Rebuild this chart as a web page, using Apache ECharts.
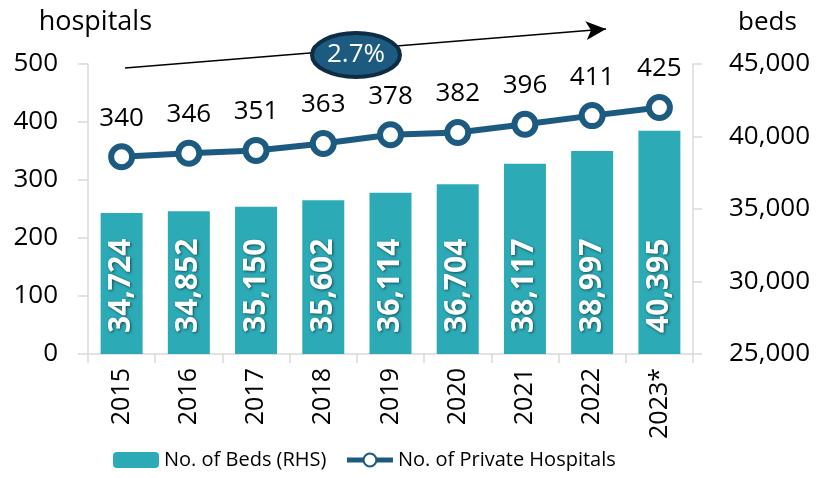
<!DOCTYPE html>
<html>
<head>
<meta charset="utf-8">
<script src="https://cdn.jsdelivr.net/npm/echarts@6/dist/echarts.min.js"></script>
<style>
  html, body { margin: 0; padding: 0; background: #fff; }
  #chart { width: 825px; height: 478px; }
</style>
</head>
<body>
<div id="chart"></div>
<script>
var years = ['2015', '2016', '2017', '2018', '2019', '2020', '2021', '2022', '2023*'];
var beds = [34724, 34852, 35150, 35602, 36114, 36704, 38117, 38997, 40395];
var hospitals = [340, 346, 351, 363, 378, 382, 396, 411, 425];
var growthLabel = '2.7%';

var font = '"Open Sans", "Noto Sans", sans-serif';
var axisGray = '#d9d9d9';
var navy = '#1d5a80';

var myChart = echarts.init(document.getElementById('chart'));
var option = {
    animation: false,
    textStyle: { fontFamily: font },
    grid: { left: 88, right: 132, top: 64, bottom: 124 },
    legend: {
        bottom: 3,
        left: 108,
        itemWidth: 46,
        itemHeight: 16,
        itemGap: 18,
        textStyle: { fontSize: 20, color: '#000', fontFamily: font },
        lineStyle: { width: 5 },
        data: ['No. of Beds (RHS)', 'No. of Private Hospitals']
    },
    xAxis: {
        type: 'category',
        data: years,
        axisLine: { lineStyle: { color: axisGray, width: 1.5 } },
        axisTick: { show: true, length: 9, lineStyle: { color: axisGray, width: 1.5 } },
        axisLabel: { rotate: 90, fontSize: 25, color: '#000', margin: 14 }
    },
    yAxis: [
        {
            type: 'value',
            name: 'hospitals',
            nameGap: 28,
            nameTextStyle: { fontSize: 27, color: '#000', align: 'right', padding: [0, -64, 0, 0] },
            min: 0, max: 500, interval: 100,
            axisLine: { show: true, lineStyle: { color: axisGray, width: 1.5 } },
            axisTick: { show: true, length: 10, lineStyle: { color: axisGray, width: 1.5 } },
            splitLine: { show: false },
            axisLabel: { fontSize: 26, color: '#000', margin: 30 }
        },
        {
            type: 'value',
            name: 'beds',
            nameGap: 28,
            nameTextStyle: { fontSize: 26, color: '#000', align: 'left', padding: [0, 0, 0, 45] },
            min: 25000, max: 45000, interval: 5000,
            axisLine: { show: true, lineStyle: { color: axisGray, width: 1.5 } },
            axisTick: { show: true, length: 9, lineStyle: { color: axisGray, width: 1.5 } },
            splitLine: { show: false },
            axisLabel: {
                fontSize: 26, color: '#000', margin: 36,
                formatter: function (v) { return v.toLocaleString('en-US'); }
            }
        }
    ],
    series: [
        {
            name: 'No. of Beds (RHS)',
            type: 'bar',
            yAxisIndex: 1,
            data: beds,
            barWidth: 42,
            itemStyle: { color: '#2cabb7' },
            label: {
                show: true,
                position: 'insideBottom',
                rotate: 90,
                align: 'left',
                verticalAlign: 'middle',
                distance: 21,
                fontSize: 30,
                fontWeight: 'bold',
                color: '#fff',
                textShadowColor: 'rgba(0,0,0,0.55)',
                textShadowBlur: 3,
                textShadowOffsetX: 1,
                textShadowOffsetY: 1,
                formatter: function (p) { return p.value.toLocaleString('en-US'); }
            }
        },
        {
            name: 'No. of Private Hospitals',
            type: 'line',
            yAxisIndex: 0,
            data: hospitals,
            symbol: 'circle',
            symbolSize: 21,
            lineStyle: { color: navy, width: 6 },
            itemStyle: { color: '#fff', borderColor: navy, borderWidth: 6 },
            label: {
                show: true,
                position: 'top',
                distance: 12,
                fontSize: 26,
                color: '#000'
            },
            z: 3,
            markLine: {
                silent: true,
                symbol: ['none', 'arrow'],
                symbolSize: [14, 20],
                label: { show: false },
                lineStyle: { color: '#000', width: 1.5, type: 'solid' },
                data: [[{ x: 125, y: 68 }, { x: 606, y: 29 }]]
            }
        }
    ],
    graphic: [
        {
            type: 'ellipse',
            shape: { cx: 356, cy: 55, rx: 44, ry: 22 },
            style: { fill: navy, stroke: '#0e2c44', lineWidth: 4 },
            z: 100
        },
        {
            type: 'text',
            x: 356, y: 55,
            style: {
                text: growthLabel,
                fill: '#fff',
                fontSize: 26,
                fontFamily: font,
                align: 'center',
                verticalAlign: 'middle'
            },
            z: 101
        }
    ]
};
myChart.setOption(option);
</script>
</body>
</html>
